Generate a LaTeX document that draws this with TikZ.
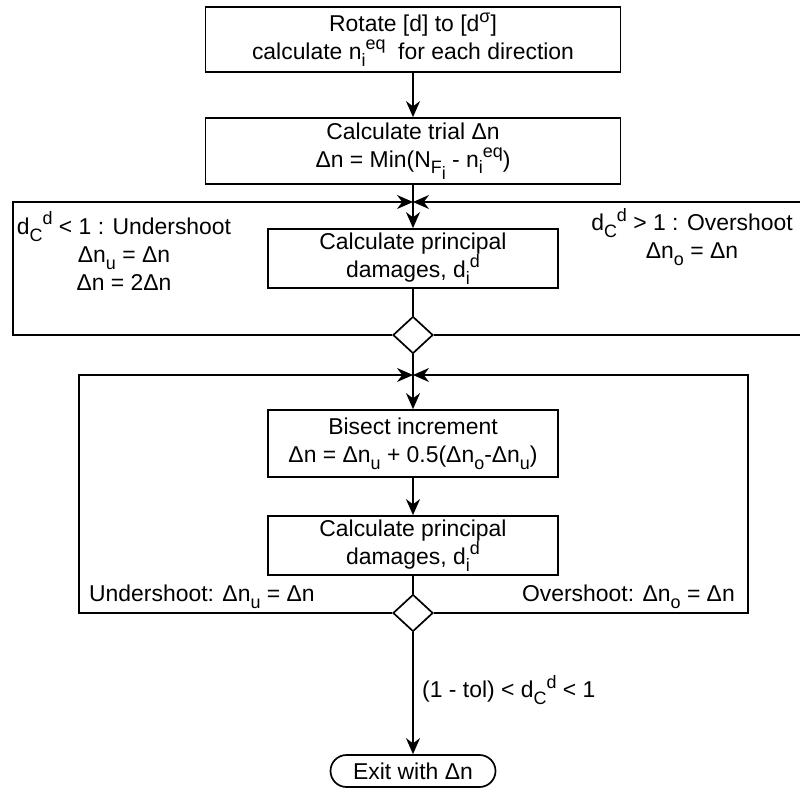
\documentclass[tikz,border=0pt]{standalone}
\usepackage{fontspec}
\setmainfont{Liberation Sans}
\usetikzlibrary{arrows.meta,shapes.geometric}
\newcommand{\subx}[1]{\raisebox{-0.3em}{\fontsize{18}{18}\selectfont #1}}
\newcommand{\supx}[1]{\raisebox{0.42em}{\fontsize{18}{18}\selectfont #1}}
\begin{document}
\begin{tikzpicture}[x=1bp,y=-1bp,
  every node/.style={font=\fontsize{23}{28}\selectfont},
  line/.style={line width=1.7bp},
  arr/.style={line width=1.7bp, -{Stealth[length=16bp,width=14bp]}},
  procbox/.style={draw, line width=1.7bp, rectangle, inner sep=0pt, align=center},
  dec/.style={draw, line width=1.7bp, diamond, inner sep=0pt, minimum width=40bp, minimum height=37bp},
  lbl/.style={inner sep=0pt, align=center},
]
\clip (0,0) rectangle (800,790);
\fill[white] (0,0) rectangle (800,790);

\node[procbox, minimum width=415bp, minimum height=65bp] (b1) at (413,39.5)
  {Rotate [d] to [d\supx{σ}]\\calculate n\subx{i}\supx{eq}\ \ for each direction};
\node[procbox, minimum width=415bp, minimum height=66bp] (b2) at (413,151)
  {Calculate trial Δn\\Δn = Min(N\subx{F\subx{i}} - n\subx{i}\supx{eq})};
\coordinate (m1) at (413,202);
\node[procbox, minimum width=290bp, minimum height=59bp] (b3) at (413,258.5)
  {Calculate principal\\damages, d\subx{i}\supx{d}};
\node[dec] (d1) at (413,335) {};
\coordinate (L1) at (13,202);
\coordinate (R1) at (808,202);

\node[lbl] (uL) at (124,251)
  {d\subx{C}\supx{d} < 1 : Undershoot\\Δn\subx{u} = Δn\\Δn = 2Δn};
\node[lbl] (oR) at (692,237)
  {d\subx{C}\supx{d} > 1 : Overshoot\\Δn\subx{o} = Δn};

\coordinate (m2) at (413,375);
\node[procbox, minimum width=290bp, minimum height=67bp] (bis) at (413,443.5)
  {Bisect increment\\Δn = Δn\subx{u} + 0.5(Δn\subx{o}-Δn\subx{u})};
\node[procbox, minimum width=290bp, minimum height=59bp] (b4) at (413,545.5)
  {Calculate principal\\damages, d\subx{i}\supx{d}};
\node[dec] (d2) at (413,613) {};
\coordinate (L2) at (79,375);
\coordinate (R2) at (748,375);

\node[lbl, anchor=west] (uS) at (89,597) {Undershoot: Δn\subx{u} = Δn};
\node[lbl, anchor=east] (oS) at (735,597) {Overshoot: Δn\subx{o} = Δn};

\node[draw, line width=1.7bp, rounded corners=16bp, minimum width=165bp, minimum height=32bp, inner sep=0pt] (ex) at (413,771) {Exit with Δn};
\node[lbl, anchor=west] (tol) at (422,690) {(1 - tol) < d\subx{C}\supx{d} < 1};

\draw[arr] (b1) -- (b2);
\draw[arr] (b2.south) -- (b3.north);
\draw[line] (b3) -- (d1);
\draw[arr] (d1.west) -| (L1) -- (m1);
\draw[arr] (d1.east) -| (R1) -- (m1);
\draw[arr] (d1.south) -- (bis.north);
\draw[arr] (bis) -- (b4);
\draw[line] (b4) -- (d2);
\draw[arr] (d2.west) -| (L2) -- (m2);
\draw[arr] (d2.east) -| (R2) -- (m2);
\draw[arr] (d2.south) -- (ex.north);
\end{tikzpicture}
\end{document}
